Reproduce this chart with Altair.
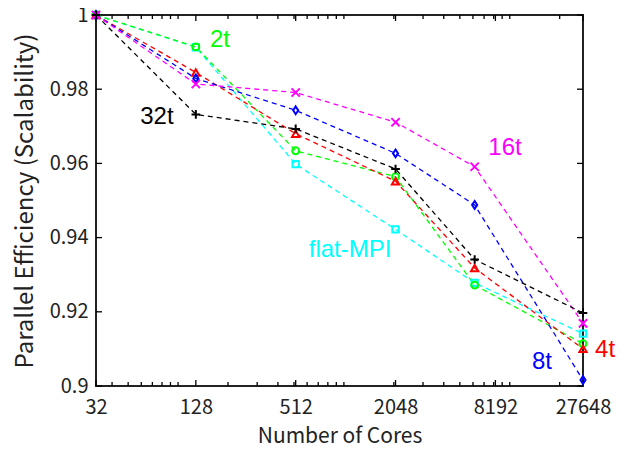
import altair as alt
import pandas as pd

# ---- data ----
cores = [32, 128, 512, 2048, 6144, 27648]
series = ["flat-MPI", "2t", "4t", "8t", "16t", "32t"]
flat_mpi = [1.0, 0.9913, 0.9598, 0.9422, 0.9278, 0.9141]
t2 = [1.0, 0.9914, 0.9634, 0.9564, 0.9272, 0.9114]
t4 = [1.0, 0.9845, 0.9680, 0.9552, 0.9318, 0.9100]
t8 = [1.0, 0.9829, 0.9743, 0.9627, 0.9488, 0.9016]
t16 = [1.0, 0.9814, 0.9791, 0.9711, 0.9591, 0.9169]
t32 = [1.0, 0.9732, 0.9693, 0.9585, 0.9341, 0.9197]
values = [flat_mpi, t2, t4, t8, t16, t32]

colors = ["#00ffff", "#00ff00", "#ff0000", "#0000ff", "#ff00ff", "#000000"]
shapes = [
    "square",
    "circle",
    "triangle-up",
    "M0,-1L0.65,0L0,1L-0.65,0Z",
    "M-1,-1L1,1M-1,1L1,-1",
    "M-1,0L1,0M0,-1L0,1",
]
sizes = [40, 75, 110, 150, 90, 120]

x_major = [32, 128, 512, 2048, 8192, 27648]
x_minor = [40, 50, 60, 70, 80, 90, 100, 200, 300, 400, 500, 600, 700, 800,
           900, 1000, 2000, 3000, 4000, 5000, 6000, 7000, 8000, 9000, 10000, 20000]
y_major = [0.9, 0.92, 0.94, 0.96, 0.98, 1.0]

# annotation labels (series name, x in cores, y in efficiency)
label_text = ["2t", "32t", "16t", "flat-MPI", "8t", "4t"]
label_x = [179, 74.6, 9364, 1089, 15650, 37550]
label_y = [0.99326, 0.97251, 0.96415, 0.93666, 0.90647, 0.90970]

W, H = 487, 371

rows = []
for s, vals in zip(series, values):
    for c, v in zip(cores, vals):
        rows.append({"series": s, "cores": c, "eff": v})
df = pd.DataFrame(rows)

xscale = alt.Scale(type="log", domain=[32, 27648], nice=False)
yscale = alt.Scale(domain=[0.9, 1.0], nice=False, zero=False)
cscale = alt.Scale(domain=series, range=colors)
sscale = alt.Scale(domain=series, range=shapes)
zscale = alt.Scale(domain=series, range=sizes)

xaxis = alt.Axis(values=x_major, format="d", title="Number of Cores", grid=False,
                 ticks=False, domain=False, labelPadding=11, titlePadding=8,
                 labelFlush=False, titleFontSize=21)
yaxis = alt.Axis(values=y_major, format=".2~f", title="Parallel Efficiency (Scalability)",
                 grid=False, ticks=False, domain=False, labelPadding=8, titlePadding=12,
                 titleFontSize=24)


def X(field):
    return alt.X(field, type="quantitative", scale=xscale, axis=xaxis)


def Y(field):
    return alt.Y(field, type="quantitative", scale=yscale, axis=yaxis)


lines = alt.Chart(df).mark_line(strokeDash=[5, 4], strokeWidth=1.3).encode(
    x=X("cores"),
    y=Y("eff"),
    color=alt.Color("series:N", scale=cscale, legend=None),
    detail="series:N",
)

points = alt.Chart(df).mark_point(filled=False, strokeWidth=2, opacity=1).encode(
    x=X("cores"),
    y=Y("eff"),
    color=alt.Color("series:N", scale=cscale, legend=None),
    shape=alt.Shape("series:N", scale=sscale, legend=None),
    size=alt.Size("series:N", scale=zscale, legend=None),
)

lab_df = pd.DataFrame({"series": label_text, "cores": label_x, "eff": label_y})
labels = alt.Chart(lab_df).mark_text(font="Liberation Sans", fontSize=24).encode(
    x=X("cores"),
    y=Y("eff"),
    text="series:N",
    color=alt.Color("series:N", scale=cscale, legend=None),
)


def xticks(vals, length):
    d = pd.DataFrame({"cores": vals})
    b = alt.Chart(d).mark_rule(color="black", strokeWidth=1.3).encode(
        x=X("cores"), y=alt.value(H), y2=alt.value(H - length))
    t = alt.Chart(d).mark_rule(color="black", strokeWidth=1.3).encode(
        x=X("cores"), y=alt.value(0), y2=alt.value(length))
    return [b, t]


def yticks(vals, length):
    d = pd.DataFrame({"eff": vals})
    l = alt.Chart(d).mark_rule(color="black", strokeWidth=1.3).encode(
        y=Y("eff"), x=alt.value(0), x2=alt.value(length))
    r = alt.Chart(d).mark_rule(color="black", strokeWidth=1.3).encode(
        y=Y("eff"), x=alt.value(W), x2=alt.value(W - length))
    return [l, r]


tick_layers = xticks(x_major, 6) + xticks(x_minor, 4) + yticks(y_major, 6)

chart = alt.layer(lines, *tick_layers, points, labels).properties(
    width=W, height=H,
    autosize=alt.AutoSizeParams(type="none"),
    padding={"left": 88, "top": 7, "right": 38, "bottom": 59},
    background="white",
).configure_view(
    stroke="#222222", strokeWidth=2
).configure_axis(
    labelFont="Noto Sans CJK JP", labelFontSize=20, labelColor="#222222",
    titleFont="Noto Sans CJK JP", titleColor="#222222",
    titleFontWeight="normal",
)

chart.save("out.html", embed_options={"renderer": "svg", "actions": False})
